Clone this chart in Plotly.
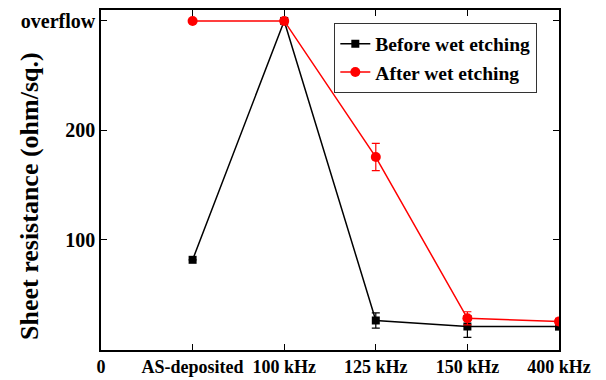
import plotly.graph_objects as go

categories = ["0", "AS-deposited", "100 kHz", "125 kHz", "150 kHz", "400 kHz"]
x_pos = [1, 2, 3, 4, 5]
before_vals = [81.5, 300, 26, 20.5, 20.5]
before_err = [0, 0, 7, 10, 3]
after_vals = [300, 300, 175.5, 28, 25]
after_err = [0, 0, 12.5, 6, 3]
ytick_vals = [100, 200, 300]
ytick_text = ["100", "200", "overflow"]
y_title = "Sheet resistance (ohm/sq.)"

FONT = "Times New Roman, Liberation Serif, serif"

fig = go.Figure()
fig.add_trace(go.Scatter(
    x=x_pos, y=before_vals, mode="lines+markers", name="Before wet etching",
    line=dict(color="black", width=1.5),
    marker=dict(symbol="square", size=8, color="black"),
    error_y=dict(type="data", array=before_err, visible=True, color="black", thickness=1.2, width=4),
))
fig.add_trace(go.Scatter(
    x=x_pos, y=after_vals, mode="lines+markers", name="After wet etching",
    line=dict(color="red", width=1.5),
    marker=dict(symbol="circle", size=10, color="red"),
    error_y=dict(type="data", array=after_err, visible=True, color="red", thickness=1.2, width=4),
))

fig.add_annotation(
    text=y_title, xref="paper", yref="paper", x=-0.155, y=0.453,
    xanchor="center", yanchor="middle", textangle=-90, showarrow=False,
    font=dict(family=FONT, size=26, weight="bold", color="black"),
)

fig.update_layout(
    width=606, height=380,
    margin=dict(l=101, r=47, t=10, b=30, autoexpand=False),
    paper_bgcolor="white", plot_bgcolor="white",
    font=dict(family=FONT, color="black", size=18, weight="bold"),
    showlegend=True,
    legend=dict(
        x=0.509, y=0.961, xanchor="left", yanchor="top",
        bordercolor="#333", borderwidth=1.2, bgcolor="white",
        font=dict(family=FONT, size=19.5, color="black", weight="bold"),
        tracegroupgap=0, itemwidth=30,
    ),
    xaxis=dict(
        range=[0, 5], tickmode="array", tickvals=list(range(len(categories))), ticktext=categories,
        showline=True, linecolor="black", linewidth=1.5, mirror="allticks",
        ticks="inside", ticklen=6, tickwidth=1.2, tickcolor="black",
        showgrid=False, zeroline=False, automargin=False,
        tickfont=dict(family=FONT, size=18, weight="bold"),
    ),
    yaxis=dict(
        range=[-1, 310], tickmode="array", tickvals=ytick_vals, ticktext=ytick_text,
        showline=True, linecolor="black", linewidth=1.5, mirror="allticks",
        ticks="inside", ticklen=6, tickwidth=1.2, tickcolor="black",
        showgrid=False, zeroline=False, automargin=False,
        tickfont=dict(family=FONT, size=20, weight="bold"),
    ),
)

fig.write_html("out.html")
